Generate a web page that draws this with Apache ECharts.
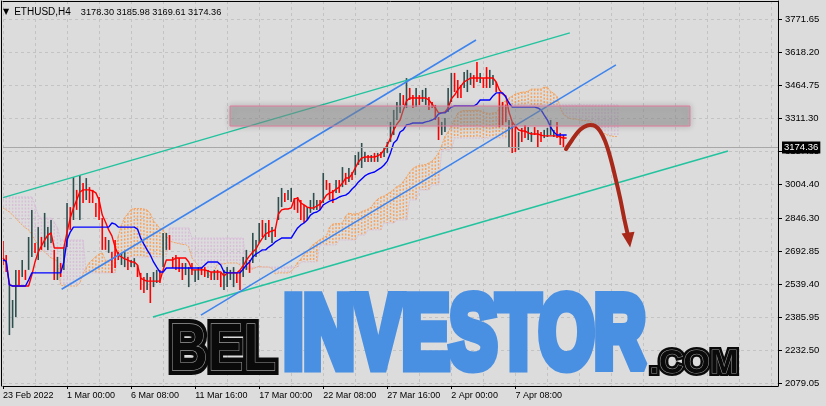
<!DOCTYPE html>
<html><head><meta charset="utf-8">
<script src="https://cdn.jsdelivr.net/npm/echarts@6/dist/echarts.min.js"></script>
<style>html,body{margin:0;padding:0;background:#dcdcdc}#c{width:826px;height:406px}</style>
</head><body><div id="c"></div>
<script>
const symbolName = 'ETHUSD,H4';
const timeLabels = ['23 Feb 2022','1 Mar 00:00','6 Mar 08:00','11 Mar 16:00','17 Mar 00:00','22 Mar 08:00','27 Mar 16:00','2 Apr 00:00','7 Apr 08:00'];
const labelBars = [0,20,40,60,80,100,120,140,160];
const priceTicks = [2079.05,2232.50,2385.95,2539.40,2692.85,2846.30,3004.40,3157.85,3311.30,3464.75,3618.20,3771.65];

const opens = [2711,2656,2363,2367,2442,2586,2591,2591,2642,2721,
2716,2688,2744,2753,2725,2758,2660,2586,2618,2632,
2763,2870,2888,2953,2888,2986,2958,2972,2963,2897,
2916,2809,2744,2698,2665,2711,2679,2642,2637,2651,
2628,2628,2614,2572,2553,2530,2539,2544,2558,2591,
2660,2716,2749,2651,2656,2642,2618,2595,2549,2623,
2563,2572,2609,2605,2577,2586,2572,2591,2572,2535,
2549,2572,2549,2577,2581,2595,2628,2637,2674,2684,
2753,2818,2763,2818,2749,2781,2865,2921,2953,2944,
2939,2925,2925,2907,2884,2851,2884,2902,2897,2916,
2953,3009,2990,2963,2977,3009,3014,3042,3032,3051,
3070,3107,3107,3121,3130,3116,3139,3116,3144,3139,
3163,3223,3260,3325,3358,3404,3395,3437,3404,3386,
3404,3400,3390,3395,3376,3353,3288,3246,3265,3367,
3418,3497,3465,3451,3469,3460,3479,3497,3548,3488,
3483,3525,3474,3479,3465,3390,3358,3353,3204,3256,
3246,3186,3246,3265,3223,3214,3260,3237,3232,3228,
3232,3251,3232,3274,3228,3218,3178.30];
const highs = [2739,2674,2544,2465,2605,2605,2651,2605,2758,2884,
2730,2804,2758,2870,2804,2837,2698,2665,2637,2711,
2916,2897,3037,2977,3046,3009,3032,2990,2977,2916,
2944,2846,2758,2744,2688,2744,2688,2684,2688,2665,
2651,2660,2628,2591,2572,2591,2572,2595,2605,2605,
2777,2777,2767,2665,2674,2660,2637,2637,2618,2637,
2605,2618,2618,2618,2605,2595,2605,2605,2591,2605,
2618,2605,2618,2591,2605,2665,2698,2651,2777,2744,
2823,2837,2823,2837,2804,2791,2944,2986,2963,2977,
2986,2939,2944,2930,2907,2897,2930,2963,2930,2930,
3056,3023,3009,2977,3023,3023,3083,3056,3079,3060,
3139,3153,3195,3153,3139,3139,3149,3149,3153,3172,
3200,3293,3349,3386,3428,3418,3497,3451,3418,3451,
3418,3442,3451,3409,3386,3372,3316,3293,3311,3451,
3521,3521,3488,3465,3525,3535,3521,3511,3572,3521,
3497,3548,3535,3511,3479,3432,3386,3372,3302,3293,
3279,3246,3265,3279,3269,3246,3269,3256,3246,3256,
3265,3302,3256,3293,3242,3232,3185.98];
const lows = [2628,2595,2302,2335,2386,2535,2572,2558,2605,2665,
2684,2651,2698,2711,2698,2730,2558,2558,2572,2605,
2711,2791,2837,2884,2837,2916,2930,2916,2916,2851,
2837,2698,2698,2684,2591,2614,2651,2628,2618,2605,
2618,2618,2572,2512,2498,2512,2451,2525,2544,2544,
2618,2698,2698,2614,2605,2595,2558,2581,2525,2581,
2549,2558,2581,2572,2567,2558,2558,2558,2525,2512,
2525,2558,2525,2544,2512,2572,2605,2591,2637,2665,
2730,2758,2744,2758,2730,2758,2837,2897,2921,2930,
2921,2884,2870,2837,2823,2837,2870,2884,2884,2884,
2916,2977,2930,2916,2963,2963,2990,3000,3014,3023,
3046,3093,3079,3107,3107,3107,3107,3107,3125,3130,
3149,3200,3232,3302,3335,3372,3358,3395,3358,3362,
3372,3386,3372,3349,3358,3302,3209,3232,3246,3339,
3386,3432,3404,3404,3451,3432,3465,3451,3479,3474,
3451,3451,3451,3465,3432,3269,3279,3293,3172,3149,
3153,3163,3200,3218,3209,3200,3232,3176,3200,3218,
3223,3232,3223,3218,3186,3172,3169.61];
const closes = [2656,2614,2484,2432,2549,2553,2632,2572,2721,2828,
2698,2767,2711,2828,2777,2809,2595,2637,2591,2684,
2865,2818,2986,2907,2995,2939,3004,2935,2930,2870,
2865,2735,2711,2730,2614,2646,2660,2670,2670,2618,
2642,2651,2586,2530,2516,2572,2484,2577,2591,2558,
2735,2758,2716,2628,2623,2614,2577,2623,2595,2595,
2591,2605,2591,2586,2595,2567,2591,2572,2544,2581,
2595,2591,2595,2558,2535,2642,2674,2605,2739,2725,
2800,2777,2804,2777,2786,2767,2916,2963,2930,2963,
2967,2897,2888,2860,2846,2884,2916,2944,2916,2897,
3018,2990,2949,2930,3009,2977,3060,3014,3060,3032,
3116,3139,3167,3139,3116,3130,3116,3139,3135,3163,
3186,3269,3321,3362,3404,3386,3460,3409,3372,3428,
3386,3428,3432,3362,3367,3321,3237,3279,3293,3423,
3488,3455,3428,3418,3507,3507,3507,3465,3502,3507,
3465,3474,3511,3497,3446,3311,3307,3311,3269,3186,
3186,3223,3218,3232,3256,3232,3242,3195,3214,3246,
3256,3283,3246,3237,3200,3186,3174.36];

const tenkan = [2660,2642,2535,2530,2530,2530,2530,2530,2530,2581,
2642,2688,2716,2744,2767,2777,2707,2707,2707,2707,
2781,2846,2893,2930,2967,2977,2977,2977,2972,2963,
2930,2860,2828,2791,2763,2711,2674,2665,2656,2651,
2642,2642,2628,2567,2558,2553,2553,2553,2553,2553,
2605,2651,2651,2651,2660,2660,2660,2660,2642,2605,
2605,2605,2605,2605,2600,2595,2595,2595,2595,2577,
2591,2591,2591,2591,2605,2623,2651,2670,2688,2702,
2730,2753,2772,2781,2786,2791,2865,2884,2888,2888,
2893,2935,2939,2916,2907,2897,2893,2893,2902,2911,
2930,2953,2963,2967,2981,2990,3009,3032,3032,3051,
3079,3107,3125,3130,3130,3130,3130,3135,3144,3163,
3186,3218,3256,3283,3302,3349,3390,3404,3404,3404,
3404,3404,3404,3395,3376,3358,3335,3335,3339,3358,
3400,3418,3442,3460,3479,3488,3497,3497,3497,3497,
3497,3497,3497,3497,3479,3442,3423,3414,3339,3293,
3274,3256,3251,3251,3242,3237,3237,3237,3232,3228,
3228,3228,3228,3228,3223,3218,3218];
const kijun = [2651,2646,2535,2530,2530,2530,2530,2530,2558,2591,
2591,2591,2591,2591,2591,2591,2591,2591,2591,2642,
2744,2781,2804,2804,2804,2804,2804,2804,2804,2804,
2804,2804,2804,2804,2823,2818,2804,2804,2804,2804,
2804,2804,2795,2753,2725,2698,2674,2642,2618,2595,
2595,2614,2614,2614,2614,2614,2614,2614,2614,2614,
2614,2614,2614,2628,2642,2642,2642,2642,2628,2595,
2591,2591,2591,2591,2591,2609,2628,2642,2665,2679,
2688,2698,2698,2711,2721,2735,2744,2753,2753,2753,
2753,2777,2800,2814,2823,2837,2860,2870,2874,2884,
2907,2916,2925,2930,2935,2944,2949,2953,2963,2981,
2995,3014,3028,3042,3051,3056,3060,3070,3079,3093,
3111,3149,3195,3209,3246,3256,3279,3283,3288,3288,
3288,3288,3293,3297,3302,3311,3330,3335,3335,3349,
3362,3367,3367,3367,3367,3367,3367,3367,3376,3395,
3395,3395,3395,3414,3428,3428,3428,3409,3381,3362,
3362,3362,3362,3362,3362,3362,3362,3358,3349,3325,
3302,3269,3246,3232,3232,3232,3232];
const senkouA = [2893,2884,2874,2860,2846,2828,2814,2800,2791,2767,2744,2721,2698,2688,2674,2660,
2655.5,2644,2535,2530,2530,2530,2530,2530,2544,2586,
2616.5,2639.5,2653.5,2667.5,2679,2684,2649,2649,2649,2674.5,
2762.5,2813.5,2848.5,2867,2885.5,2890.5,2890.5,2890.5,2888,2883.5,
2867,2832,2816,2797.5,2793,2764.5,2739,2734.5,2730,2727.5,
2723,2723,2711.5,2660,2641.5,2625.5,2613.5,2597.5,2585.5,2574,
2600,2632.5,2632.5,2632.5,2637,2637,2637,2637,2628,2609.5,
2609.5,2609.5,2609.5,2616.5,2621,2618.5,2618.5,2618.5,2611.5,2586,
2591,2591,2591,2591,2598,2616,2639.5,2656,2676.5,2690.5,
2709,2725.5,2735,2746,2753.5,2763,2804.5,2818.5,2820.5,2820.5,
2823,2856,2869.5,2865,2865,2867,2876.5,2881.5,2888,2897.5,
2918.5,2934.5,2944,2948.5,2958,2967,2979,2992.5,2997.5,3016,
3037,3060.5,3076.5,3086,3090.5,3093,3095,3102.5,3111.5,3128,
3148.5,3183.5,3225.5,3246,3274,3302.5,3334.5,3343.5,3346,3346,
3346,3346,3348.5,3346,3339,3334.5,3332.5,3335,3337,3353.5,
3381,3392.5,3404.5,3413.5,3423,3427.5,3432,3432,3436.5,3446,
3446,3446,3446,3455.5,3453.5,3435,3425.5,3411.5,3360,3327.5,
3318,3309,3306.5,3306.5,3302,3299.5,3299.5,3297.5,3290.5,3276.5,
3265,3248.5,3237,3230,3227.5,3225,3225];
const senkouB = [2944,2944,2944,2944,2944,2944,2944,2944,2944,2944,
2907,2860,2846,2846,2846,2846,2828,2800,
2744,2744,2744,2744,2744,2744,2744,2744,
2591,2591,2591,2591,2591,2591,2591,2591,2591,2591,
2665,2665,2665,2665,2665,2665,2665,2665,2665,2665,2665,2665,2665,2665,2665,2665,
2800,2800,2800,2800,2800,2800,2800,
2753,2753,2753,2753,2753,2753,2753,2753,2753,2753,2753,2753,2753,2753,2753,2753,2753,
2618,2618,2618,2618,2618,2618,2618,2618,2618,2618,2618,2618,2618,2618,2618,2618,2618,
2642,2642,2642,2642,2642,2642,
2721,2721,2721,2721,2721,2721,
2744,2744,2744,2744,2744,2744,
2767,2767,2767,
2791,2791,2791,2791,2791,
2823,2823,2823,2823,
2837,2837,2837,2837,
2930,2930,2930,
2977,2977,2977,2977,
3000,3000,3000,
3163,3163,3163,3163,
3218,3218,3218,3218,3218,3218,3218,3218,3218,3218,3218,3218,3218,3218,3218,3218,3218,
3372,3372,3372,3372,3372,3372,3372,3372,3372,3372,3372,3372,3372,3372,3372,3372,3372,3372,3372,3372,
3372,3372,3372,3372,3372,3372,3372,3372,3372,3372,3372,3372,3372,3372,3372];

const tealLines = [[[0, 2941], [177, 3707]], [[46.8, 2386], [226.4, 3158]]];
const blueLines = [[[18.3, 2515], [147.7, 3674]], [[61.8, 2395], [191.4, 3558]]];
const zoneX = [70.9, 214.5];
const zoneY = [3367, 3274];
const arrowPath = [[175.8,3167],[177.7,3209],[179.5,3246],[181.4,3269.5],[183.3,3279],[184.9,3274],[186.4,3251],[188.0,3204],[189.5,3135],[191.1,3042],[192.7,2939],[194.2,2828],[195.5,2744]];

const FONT = '"Liberation Sans", Arial, sans-serif';
const last = closes.length - 1;
const headerNums = [opens[last], highs[last], lows[last], closes[last]].map(v => v.toFixed(2)).join(' ');

const barData = opens.map((o, i) => [i, o, highs[i], lows[i], closes[i]]);
const kumoData = senkouA.map((a, i) => [i, a, senkouB[i]]);
const arrowData = arrowPath.map((p, k) => k === arrowPath.length - 1
  ? {value: p, symbol: 'triangle', symbolSize: [13, 15], symbolRotate: 188, itemStyle: {color: '#a8281a'}}
  : {value: p});

function lineSeries(name, data, color, width, z, dash) {
  return {type: 'line', name, data, symbol: 'none', z, clip: true, silent: true,
    lineStyle: {color, width, type: dash || 'solid'}};
}

const series = [
  {type: 'custom', name: 'kumo', z: 1, clip: true, silent: true, data: kumoData, encode: {x: 0, y: [1, 2]},
    renderItem(params, api) {
      const i = api.value(0), a = api.value(1), b = api.value(2);
      const pa = api.coord([i, a]), pb = api.coord([i, b]);
      return {type: 'line', shape: {x1: pa[0], y1: Math.min(pa[1], pb[1]), x2: pa[0], y2: Math.max(pa[1], pb[1])},
        style: {stroke: a >= b ? '#f4a460' : '#d8bfd8', lineWidth: 1.5, lineDash: [2, 1.5]}};
    },
    markLine: {silent: true, symbol: ['none', 'none'], animation: false,
      data: [{yAxis: closes[last]}],
      lineStyle: {color: '#a8a8a8', width: 1, type: 'solid'},
      label: {position: 'end', distance: 4, formatter: closes[last].toFixed(2), backgroundColor: '#000', color: '#fff',
        padding: [1, 2, 1, 2], fontSize: 9.5, fontFamily: FONT}}
  },
  lineSeries('senkouA', senkouA.map((v, i) => [i, v]), '#f4a460', 1, 2, [2, 1]),
  lineSeries('senkouB', senkouB.map((v, i) => [i, v]), '#d8bfd8', 1, 2, [2, 1]),
  {type: 'custom', name: 'bars', z: 3, clip: true, silent: true, data: barData, encode: {x: 0, y: [1, 2, 3, 4]},
    renderItem(params, api) {
      const i = api.value(0), o = api.value(1), h = api.value(2), l = api.value(3), c = api.value(4);
      const p1 = api.coord([i, h]), p2 = api.coord([i, l]);
      return {type: 'line', shape: {x1: p1[0], y1: p1[1], x2: p2[0], y2: p2[1]},
        style: {stroke: c >= o ? '#2f4f4f' : '#ff0000', lineWidth: 1.6}};
    }
  },
  lineSeries('tenkan', tenkan.map((v, i) => [i, v]), '#ff0000', 1.4, 4),
  lineSeries('kijun', kijun.map((v, i) => [i, v]), '#0000ff', 1.4, 4),
  lineSeries('teal1', tealLines[0], '#22c39e', 1.5, 5),
  lineSeries('teal2', tealLines[1], '#22c39e', 1.5, 5),
  lineSeries('blue1', blueLines[0], '#3d84ee', 1.5, 5),
  lineSeries('blue2', blueLines[1], '#3d84ee', 1.5, 5),
  {type: 'custom', name: 'zone', z: 6, clip: true, silent: true, data: [[zoneX[0], zoneY[0], zoneX[1], zoneY[1]]],
    encode: {x: [0, 2], y: [1, 3]},
    renderItem(params, api) {
      const p1 = api.coord([api.value(0), api.value(1)]), p2 = api.coord([api.value(2), api.value(3)]);
      return {type: 'rect', shape: {x: p1[0], y: p1[1], width: p2[0] - p1[0], height: p2[1] - p1[1]},
        style: {fill: 'rgba(150,150,150,0.45)', stroke: '#e07c9c', lineWidth: 1, shadowBlur: 6, shadowColor: 'rgba(0,0,0,0.3)'}};
    }
  },
  {type: 'line', name: 'arrow', data: arrowData, smooth: 0.35, symbol: 'none', showSymbol: true, z: 7, silent: true, clip: false,
    lineStyle: {color: '#a8281a', width: 4, cap: 'round'}}
];

const chart = echarts.init(document.getElementById('c'), null, {renderer: 'canvas'});
chart.setOption({
  animation: false,
  backgroundColor: '#dcdcdc',
  textStyle: {fontFamily: FONT},
  title: {left: 3, top: 3, padding: 0,
    text: '{t|▼} {a|' + symbolName + '}  {b|' + headerNums + '}',
    textStyle: {fontWeight: 'normal', rich: {
      t: {fontSize: 8, color: '#000', fontWeight: 'normal', fontFamily: 'DejaVu Sans'},
      a: {fontSize: 10, color: '#000', fontWeight: 'normal', fontFamily: FONT},
      b: {fontSize: 9.2, color: '#000', fontWeight: 'normal', fontFamily: FONT}
    }}},
  grid: {left: 3, right: 48, top: 1, bottom: 20},
  xAxis: [
    {type: 'value', min: 0, max: 242, interval: 10, position: 'bottom',
      axisLine: {show: true, onZero: false, lineStyle: {color: '#000', width: 1}},
      axisTick: {show: true, customValues: labelBars, length: 3, lineStyle: {color: '#000'}},
      axisLabel: {customValues: labelBars, formatter: v => timeLabels[labelBars.indexOf(v)] || '',
        align: 'left', margin: 5, color: '#000', fontSize: 9, fontFamily: FONT},
      splitLine: {show: false}},
    {type: 'value', min: 0, max: 242, interval: 10, position: 'top',
      axisLine: {show: true, onZero: false, lineStyle: {color: '#000', width: 1}},
      axisTick: {show: false}, axisLabel: {show: false},
      splitLine: {show: true, lineStyle: {color: '#c3c3c3', type: [3, 3], width: 1}}}
  ],
  yAxis: [
    {type: 'value', position: 'right', min: 2065.1, max: 3855.35, scale: true,
      axisLine: {show: true, onZero: false, lineStyle: {color: '#000', width: 1}},
      axisTick: {show: true, customValues: priceTicks, length: 4, lineStyle: {color: '#000'}},
      axisLabel: {customValues: priceTicks, formatter: v => v.toFixed(2), margin: 7, color: '#000', fontSize: 9.5, fontFamily: FONT},
      splitLine: {show: true, lineStyle: {color: '#c3c3c3', type: [3, 3], width: 1}}},
    {type: 'value', position: 'left', offset: 1.5, min: 2065.1, max: 3855.35, scale: true,
      axisLine: {show: true, onZero: false, lineStyle: {color: '#000', width: 1}},
      axisTick: {show: false}, axisLabel: {show: false}, splitLine: {show: false}}
  ],
  series: series,
  graphic: [
    {type: 'text', x: 169, y: 352, scaleX: 0.8, z: 100, silent: true,
      style: {text: 'BEL', font: 'bold 67px "Liberation Sans"', fill: '#0a0a0a', stroke: '#0a0a0a', lineWidth: 10, lineJoin: 'miter', align: 'left', verticalAlign: 'middle'}},
    {type: 'text', x: 169, y: 352, scaleX: 0.8, z: 101, silent: true,
      style: {text: 'BEL', font: 'bold 67px "Liberation Sans"', fill: '#0a0a0a', stroke: '#9a9a9a', lineWidth: 1.3, align: 'left', verticalAlign: 'middle'}},
    {type: 'text', x: 283.5, y: 339, scaleX: 0.697, z: 100, silent: true,
      style: {text: 'INVESTOR', font: 'bold 102px "Liberation Sans"', fill: '#4a90e2', stroke: '#4a90e2', lineWidth: 11, lineJoin: 'miter', miterLimit: 3,
        align: 'left', verticalAlign: 'middle', shadowBlur: 3, shadowColor: 'rgba(0,0,0,0.25)', shadowOffsetY: 1}},
    {type: 'text', x: 649.6, y: 364, z: 100, silent: true,
      style: {text: '.COM', font: 'bold 34px "Liberation Sans"', fill: '#0a0a0a', stroke: '#0a0a0a', lineWidth: 6, lineJoin: 'round', align: 'left', verticalAlign: 'middle'}},
    {type: 'text', x: 649.6, y: 364, z: 101, silent: true,
      style: {text: '.COM', font: 'bold 34px "Liberation Sans"', fill: '#0a0a0a', stroke: '#9a9a9a', lineWidth: 1, align: 'left', verticalAlign: 'middle'}}
  ]
});
</script>
</body></html>
